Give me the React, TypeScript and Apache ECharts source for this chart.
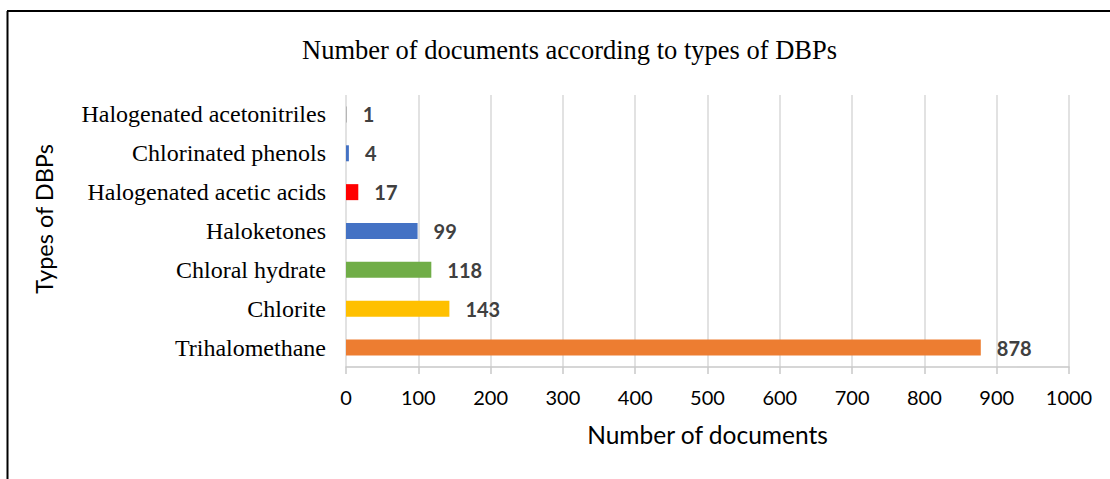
import React, { useEffect, useRef } from "react";
import * as echarts from "echarts";

const categories = [
  "Trihalomethane",
  "Chlorite",
  "Chloral hydrate",
  "Haloketones",
  "Halogenated acetic acids",
  "Chlorinated phenols",
  "Halogenated acetonitriles",
];
const values = [878, 143, 118, 99, 17, 4, 1];
const barColors = ["#ED7D31", "#FFC000", "#70AD47", "#4472C4", "#FF0000", "#4472C4", "#A5A5A5"];
const titleText = "Number of documents according to types of DBPs";
const xAxisName = "Number of documents";
const yAxisName = "Types of DBPs";

export default function App() {
  const ref = useRef<HTMLDivElement>(null);
  useEffect(() => {
    if (!ref.current) return;
    const chart = echarts.init(ref.current, undefined, { renderer: "svg" });
    const sans = "Lato";
    const serif = "Liberation Serif";
    chart.setOption({
      animation: false,
      backgroundColor: "#ffffff",
      title: {
        text: titleText,
        left: 297,
        top: 31,
        textStyle: { fontFamily: serif, fontSize: 26.5, fontWeight: "normal", color: "#000" },
      },
      grid: { left: 346, right: 41, top: 95, bottom: 112, containLabel: false },
      xAxis: {
        type: "value",
        min: 0,
        max: 1000,
        interval: 100,
        name: xAxisName,
        nameLocation: "middle",
        nameGap: 55,
        nameTextStyle: { fontFamily: sans, fontSize: 24.5, color: "#000" },
        axisLine: { show: true, lineStyle: { color: "#C8C8C8", width: 1.5 } },
        axisTick: { show: true, length: 7, lineStyle: { color: "#C8C8C8", width: 1.5 } },
        axisLabel: {
          fontFamily: sans,
          fontSize: 20,
          color: "#000",
          margin: 20,
          formatter: (v: number) => String(v),
        },
        splitLine: { show: true, lineStyle: { color: "#D9D9D9", width: 1.5 } },
      },
      yAxis: {
        type: "category",
        data: categories,
        axisLine: { show: false },
        axisTick: { show: false },
        axisLabel: { fontFamily: serif, fontSize: 24, color: "#000", margin: 20 },
        splitLine: { show: false },
      },
      series: [
        {
          type: "bar",
          data: values.map((v, i) => ({ value: v, itemStyle: { color: barColors[i] } })),
          barWidth: 16,
          label: {
            show: true,
            position: "right",
            distance: 16,
            fontFamily: sans,
            fontSize: 20,
            fontWeight: "bold",
            color: "#404040",
          },
        },
      ],
      graphic: [
        { type: "line", shape: { x1: 7.5, y1: 11, x2: 7.5, y2: 479 }, style: { stroke: "#000", lineWidth: 2 } },
        { type: "line", shape: { x1: 7, y1: 11, x2: 1110, y2: 11 }, style: { stroke: "#000", lineWidth: 2 } },
        {
          type: "text",
          x: 44,
          y: 219,
          rotation: Math.PI / 2,
          style: {
            text: yAxisName,
            fontFamily: sans,
            fontSize: 23.5,
            fill: "#000",
            align: "center",
            verticalAlign: "middle",
          },
        },
      ],
    });
    return () => chart.dispose();
  }, []);
  return (
    <div
      ref={ref}
      style={{ position: "absolute", left: 0, top: 0, width: 1110, height: 479 }}
    />
  );
}
